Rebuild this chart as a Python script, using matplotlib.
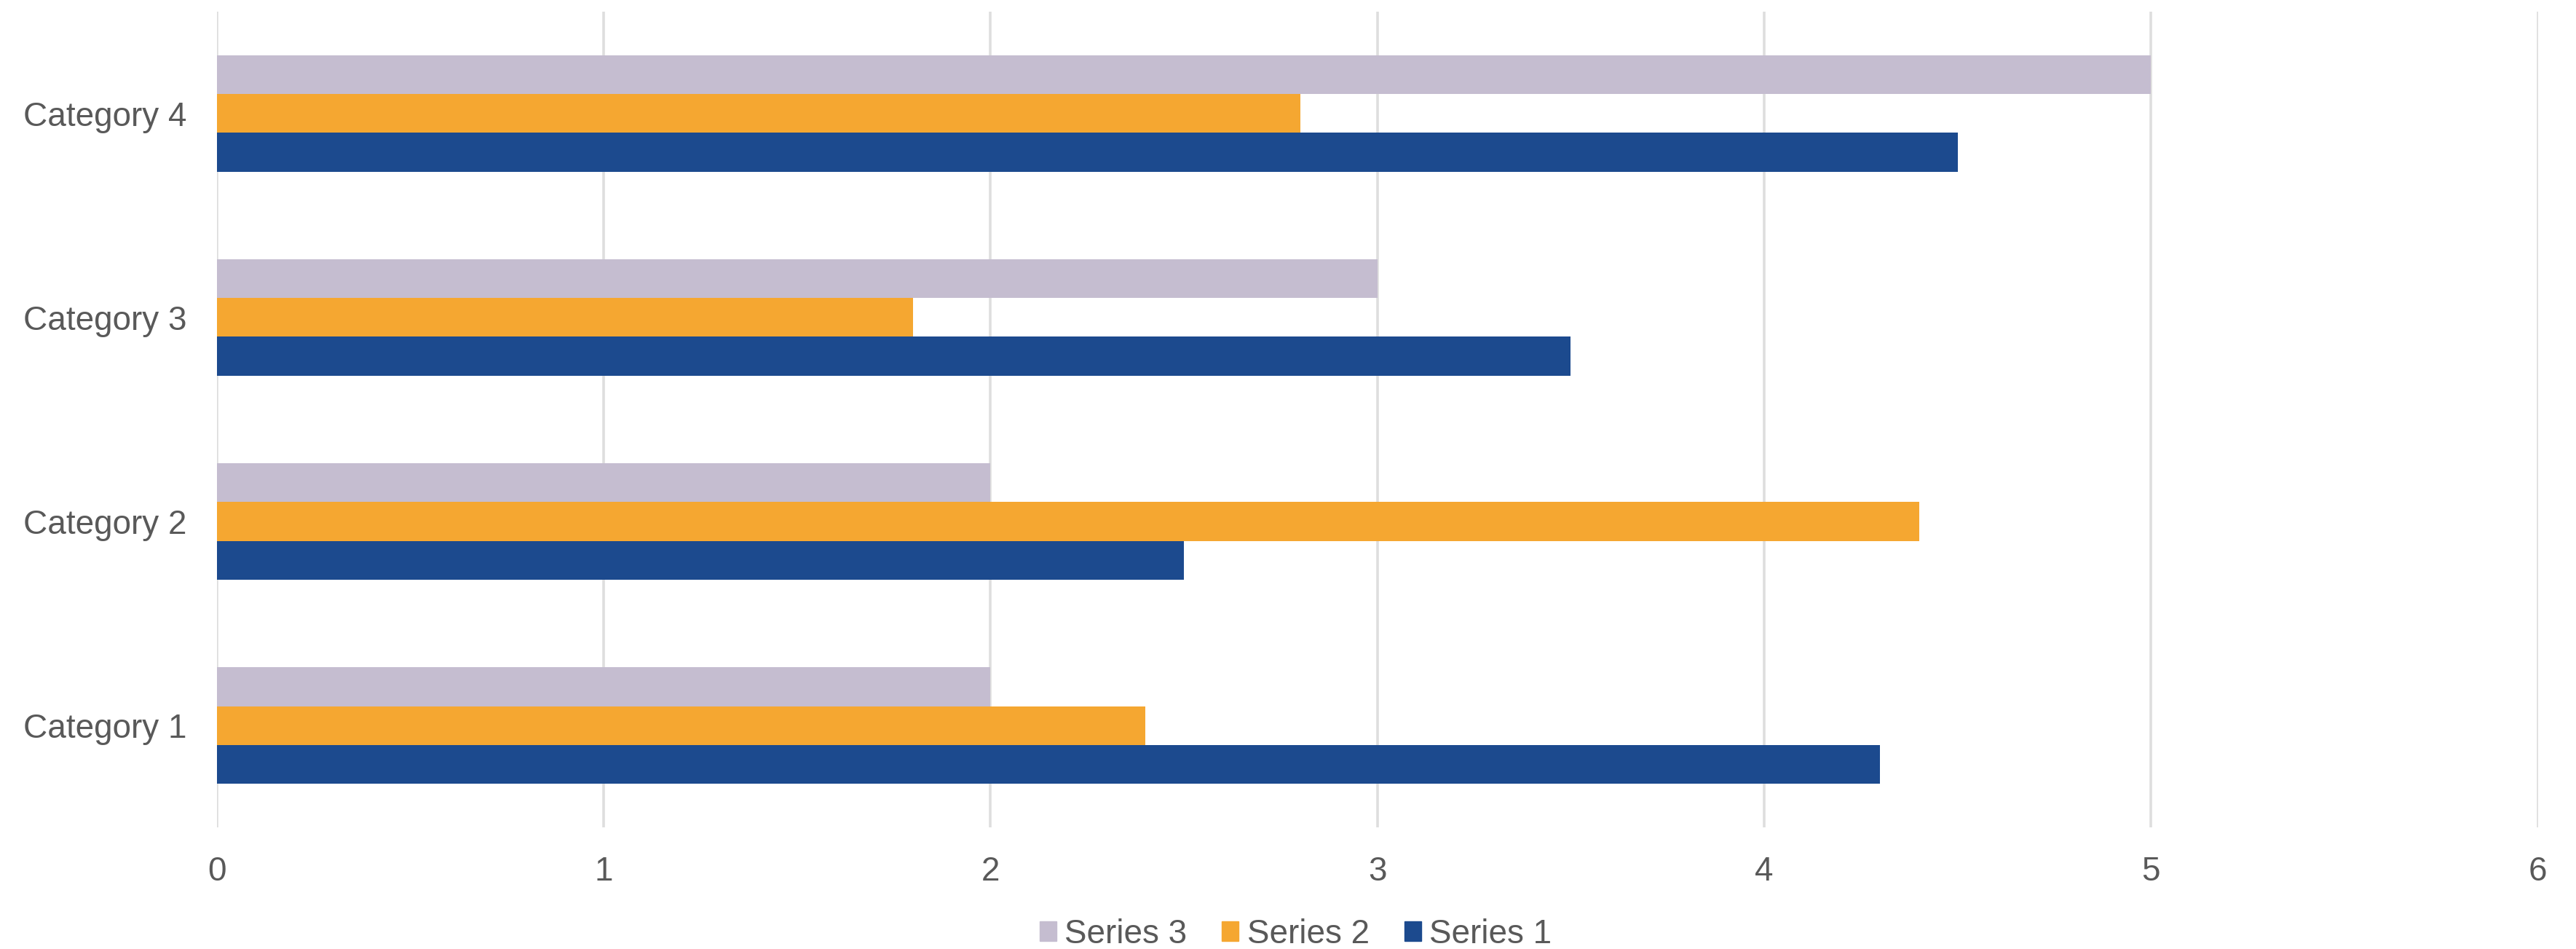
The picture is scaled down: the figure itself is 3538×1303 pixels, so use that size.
import matplotlib.pyplot as plt
import numpy as np
from matplotlib.patches import Patch

plt.rcParams['font.family'] = ['Liberation Sans', 'DejaVu Sans']

categories = ['Category 1', 'Category 2', 'Category 3', 'Category 4']
series_1 = [4.3, 2.5, 3.5, 4.5]
series_2 = [2.4, 4.4, 1.8, 2.8]
series_3 = [2.0, 2.0, 3.0, 5.0]
x_ticks = [0, 1, 2, 3, 4, 5, 6]

colors = {'Series 1': '#1c4a8e', 'Series 2': '#f5a731', 'Series 3': '#c5bdd0'}
text_color = '#595959'
grid_color = '#dedede'

fig = plt.figure(figsize=(35.38, 13.03), dpi=100)
ax = fig.add_axes([0.0842, 0.128, 0.901, 0.86])

y = np.arange(len(categories))
h = 0.19
ax.barh(y - h, series_1, height=h, color=colors['Series 1'], zorder=3)
ax.barh(y, series_2, height=h, color=colors['Series 2'], zorder=3)
ax.barh(y + h, series_3, height=h, color=colors['Series 3'], zorder=3)

ax.set_xlim(0, 6)
ax.set_ylim(-0.5, len(categories) - 0.5)
ax.set_xticks(x_ticks)
ax.set_yticks(y)
ax.set_yticklabels(categories)
ax.tick_params(axis='both', length=0, labelsize=33, colors=text_color)
ax.tick_params(axis='y', pad=30)
ax.tick_params(axis='x', pad=28)

ax.grid(axis='x', color=grid_color, linewidth=2.6, zorder=0)
ax.grid(axis='y', visible=False)
for s in ax.spines.values():
    s.set_visible(False)

handles = [Patch(color=colors[n]) for n in ['Series 3', 'Series 2', 'Series 1']]
fig.legend(handles, ['Series 3', 'Series 2', 'Series 1'], loc='lower center',
           bbox_to_anchor=(0.503, -0.033), ncol=3, frameon=False,
           fontsize=33, labelcolor=text_color, handlelength=0.5, handleheight=0.5,
           handletextpad=0.25, columnspacing=1.05)

fig.savefig('out.png', dpi=100)
